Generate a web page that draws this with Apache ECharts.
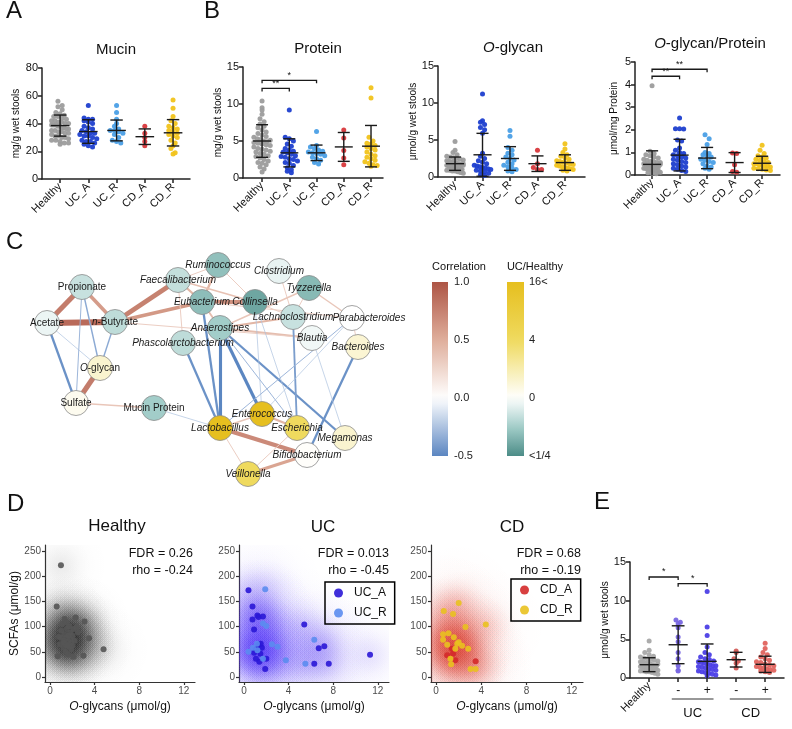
<!DOCTYPE html>
<html><head><meta charset="utf-8">
<script src="https://cdn.jsdelivr.net/npm/echarts@6/dist/echarts.min.js"></script>
<style>html,body{margin:0;padding:0;background:#fff}#c{width:792px;height:729px}</style>
</head><body><div id="c"></div>
<script>
const FONT = 'Liberation Sans, Arial, Helvetica, sans-serif';

// ---------------- Panels A / B : dot plots ----------------
const groupNames = ['Healthy', 'UC_A', 'UC_R', 'CD_A', 'CD_R'];
const groupColors = ['#9c9c9c', '#1d3fcf', '#4a9fe6', '#d8383c', '#f1c31b'];

const mucinHealthy = [56, 53, 52, 50, 48, 47, 46, 45, 45, 44, 43, 42, 42, 41, 41, 40, 40, 39, 39, 39, 38, 38, 37, 37, 36, 36, 35, 35, 34, 34, 33, 33, 32, 31, 31, 30, 30, 29, 28, 28, 27, 26, 26, 25];
const mucinUCA = [53, 44, 43, 43, 42, 41, 40, 38, 37, 36, 35, 34, 33, 33, 32, 31, 31, 30, 29, 28, 27, 27, 26, 25, 24, 23];
const mucinUCR = [53, 48, 43, 40, 38, 36, 35, 35, 34, 33, 32, 30, 28, 27, 26];
const mucinCDA = [38, 33, 30, 27, 24];
const mucinCDR = [57, 51, 45, 42, 40, 38, 37, 36, 35, 34, 33, 32, 31, 30, 28, 26, 24, 22, 19, 18];
const mucinMean = [38.5, 34.2, 35.0, 30.5, 33.3];
const mucinSD = [7.6, 8.5, 7.5, 5.6, 9.5];

const proteinHealthy = [10.4, 9.5, 9.2, 8.6, 8.0, 7.6, 7.3, 7.0, 6.8, 6.5, 6.2, 6.0, 5.8, 5.6, 5.5, 5.3, 5.2, 5.0, 4.9, 4.8, 4.7, 4.6, 4.5, 4.4, 4.2, 4.0, 3.9, 3.8, 3.6, 3.5, 3.3, 3.2, 3.0, 2.9, 2.7, 2.5, 2.3, 2.1, 2.0, 1.8, 1.5, 1.2, 0.8, 5.1];
const proteinUCA = [9.2, 5.5, 5.3, 5.0, 4.6, 4.3, 4.0, 3.8, 3.6, 3.5, 3.4, 3.2, 3.0, 2.9, 2.8, 2.6, 2.5, 2.3, 2.1, 2.0, 1.7, 1.4, 1.1, 0.9, 0.7];
const proteinUCR = [6.3, 4.4, 4.2, 4.0, 3.8, 3.6, 3.5, 3.4, 3.3, 3.2, 3.0, 2.8, 2.6, 2.4, 2.1, 1.9];
const proteinCDA = [6.5, 5.4, 3.7, 2.7, 1.8];
const proteinCDR = [12.2, 10.8, 5.5, 5.0, 4.7, 4.6, 4.4, 4.2, 4.0, 3.8, 3.5, 3.2, 3.0, 2.8, 2.6, 2.4, 2.2, 2.0, 1.8, 1.7, 1.6];
const proteinMean = [5.0, 3.4, 3.4, 4.2, 4.3];
const proteinSD = [2.2, 1.9, 1.05, 1.95, 2.8];
const proteinBrackets = [[0, 1, 12.1], [0, 2, 13.2]];
const proteinBracketLabels = ['**', '*'];

const oglyHealthy = [4.8, 3.6, 3.3, 3.0, 2.8, 2.7, 2.6, 2.5, 2.4, 2.3, 2.2, 2.1, 2.1, 2.0, 2.0, 1.9, 1.9, 1.8, 1.8, 1.7, 1.7, 1.6, 1.6, 1.5, 1.5, 1.4, 1.4, 1.3, 1.3, 1.2, 1.2, 1.1, 1.1, 1.0, 1.0, 0.9, 0.9, 0.8, 0.8, 0.7, 0.6, 0.5, 1.6, 1.8];
const oglyUCA = [11.2, 7.6, 7.4, 7.1, 6.7, 6.4, 5.9, 3.2, 2.8, 2.5, 2.2, 2.0, 1.8, 1.6, 1.5, 1.4, 1.3, 1.2, 1.1, 1.0, 0.9, 0.8, 0.7, 0.5, 0.3, 0.2];
const oglyUCR = [6.3, 5.5, 4.0, 3.6, 3.2, 3.0, 2.7, 2.5, 2.3, 2.0, 1.8, 1.6, 1.4, 1.2, 1.0, 0.8, 0.7];
const oglyCDA = [3.6, 1.8, 1.3, 1.0, 1.0];
const oglyCDR = [4.5, 3.8, 3.3, 3.0, 2.8, 2.6, 2.4, 2.2, 2.1, 2.0, 1.9, 1.8, 1.7, 1.6, 1.5, 1.4, 1.3, 1.2, 1.1, 1.0, 0.9, 0.8];
const oglyMean = [1.8, 3.0, 2.5, 1.8, 1.95];
const oglySD = [0.9, 2.9, 1.6, 1.05, 1.05];

const ratioHealthy = [3.95, 1.05, 0.95, 0.9, 0.85, 0.8, 0.75, 0.7, 0.65, 0.6, 0.6, 0.55, 0.55, 0.5, 0.5, 0.5, 0.45, 0.45, 0.45, 0.4, 0.4, 0.4, 0.38, 0.36, 0.35, 0.34, 0.32, 0.3, 0.3, 0.28, 0.26, 0.25, 0.22, 0.2, 0.2, 0.18, 0.16, 0.15, 0.12, 0.1, 0.08, 0.06, 0.42, 0.48];
const ratioUCA = [2.52, 2.05, 2.05, 2.03, 1.55, 1.5, 1.2, 1.1, 1.0, 0.95, 0.9, 0.85, 0.8, 0.75, 0.7, 0.65, 0.6, 0.55, 0.5, 0.45, 0.4, 0.35, 0.3, 0.25, 0.2, 0.15];
const ratioUCR = [1.78, 1.6, 1.35, 1.0, 0.95, 0.9, 0.85, 0.8, 0.7, 0.65, 0.6, 0.55, 0.5, 0.4, 0.35, 0.3, 0.25];
const ratioCDA = [0.97, 0.95, 0.45, 0.15, 0.12];
const ratioCDR = [1.32, 1.1, 0.95, 0.85, 0.8, 0.75, 0.7, 0.65, 0.6, 0.55, 0.5, 0.5, 0.45, 0.45, 0.4, 0.4, 0.35, 0.3, 0.28, 0.25, 0.22, 0.2];
const ratioMean = [0.47, 0.88, 0.75, 0.55, 0.52];
const ratioSD = [0.6, 0.7, 0.47, 0.44, 0.31];
const ratioBrackets = [[0, 1, 4.37], [0, 2, 4.68]];
const ratioBracketLabels = ['**', '**'];

// ---------------- Panel E ----------------
const eNames = ['Healthy', '-', '+', '-', '+'];
const eColors = ['#a8a8a8', '#7866e2', '#4c3fe6', '#d35d58', '#e0645e'];
const eHealthy = [4.8, 3.6, 3.3, 3.0, 2.8, 2.7, 2.6, 2.5, 2.4, 2.3, 2.2, 2.1, 2.1, 2.0, 2.0, 1.9, 1.9, 1.8, 1.8, 1.7, 1.7, 1.6, 1.6, 1.5, 1.5, 1.4, 1.4, 1.3, 1.3, 1.2, 1.2, 1.1, 1.1, 1.0, 1.0, 0.9, 0.9, 0.8, 0.8, 0.7, 0.6, 0.5, 1.6, 1.8];
const eUCminus = [7.5, 7.2, 7.0, 6.5, 5.3, 4.7, 3.3, 2.5, 1.6, 1.0, 0.9];
const eUCplus = [11.2, 6.6, 5.5, 4.0, 3.3, 3.0, 2.7, 2.5, 2.4, 2.2, 2.1, 2.0, 1.9, 1.8, 1.7, 1.6, 1.6, 1.5, 1.4, 1.3, 1.2, 1.1, 1.0, 0.9, 0.8, 0.7, 0.6, 0.5, 0.4, 0.3];
const eCDminus = [3.5, 3.3, 2.5, 2.2, 1.9, 1.3];
const eCDplus = [4.5, 3.8, 3.3, 3.0, 2.7, 2.5, 2.3, 2.1, 2.0, 1.8, 1.7, 1.6, 1.5, 1.4, 1.3, 1.2, 1.1, 1.0, 0.9, 0.8, 0.7];
const eMean = [1.72, 4.3, 2.15, 2.37, 1.77];
const eSD = [0.9, 2.45, 2.25, 0.95, 1.05];
const eBrackets = [[0, 1, 13.06], [1, 2, 12.2]];
const eBracketLabels = ['*', '*'];
const eGroups = [[1, 2], [3, 4]];
const eGroupLabels = ['UC', 'CD'];

// ---------------- Panel C : network ----------------
const netNodes = ['Propionate', 'Acetate', 'n-Butyrate', 'O-glycan', 'Sulfate', 'Mucin Protein', 'Faecalibacterium', 'Ruminococcus', 'Clostridium', 'Tyzzerella', 'Eubacterium', 'Collinsella', 'Lachnoclostridium', 'Parabacteroides', 'Anaerostipes', 'Blautia', 'Phascolarctobacterium', 'Bacteroides', 'Lactobacillus', 'Enterococcus', 'Escherichia', 'Megamonas', 'Bifidobacterium', 'Veillonella'];
const netX = [52, 17, 85, 70, 46, 124, 148, 188, 249, 279, 172, 225, 263, 322, 190, 282, 153, 328, 190, 232, 267, 315, 277, 218];
const netY = [32, 68, 67, 113, 148, 153, 25, 10, 16, 33, 47, 47, 62, 63, 73, 83, 88, 92, 173, 159, 173, 183, 200, 219];
const netFold = [-0.6, -0.2, -0.7, 0.6, 0.2, -1.0, -0.65, -1.2, -0.25, -1.3, -1.25, -1.6, -0.6, 0, -1.0, -0.15, -0.7, 0.55, 4, 4, 2, 0.6, 0.05, 2];
const netEdges = [
  ['Acetate', 'Propionate', 0.78], ['Acetate', 'n-Butyrate', 0.88], ['Propionate', 'n-Butyrate', 0.6],
  ['n-Butyrate', 'Faecalibacterium', 0.75], ['n-Butyrate', 'Eubacterium', 0.62], ['O-glycan', 'Sulfate', 0.78],
  ['Faecalibacterium', 'Eubacterium', 0.45], ['Eubacterium', 'Collinsella', 0.65], ['Ruminococcus', 'Eubacterium', 0.45],
  ['Faecalibacterium', 'Collinsella', 0.38], ['Ruminococcus', 'Collinsella', 0.3], ['Faecalibacterium', 'Ruminococcus', 0.3],
  ['Eubacterium', 'Anaerostipes', 0.4], ['Anaerostipes', 'Lachnoclostridium', 0.45], ['Anaerostipes', 'Blautia', 0.4],
  ['n-Butyrate', 'Blautia', 0.3], ['Lactobacillus', 'Bifidobacterium', 0.7], ['Veillonella', 'Bifidobacterium', 0.55],
  ['Lactobacillus', 'Veillonella', 0.3], ['Lactobacillus', 'Enterococcus', 0.35], ['Enterococcus', 'Escherichia', 0.45],
  ['Escherichia', 'Veillonella', 0.3], ['Sulfate', 'Mucin Protein', 0.35], ['Tyzzerella', 'Parabacteroides', 0.35],
  ['Clostridium', 'Lachnoclostridium', 0.3], ['Tyzzerella', 'Lachnoclostridium', 0.3], ['Parabacteroides', 'Bacteroides', 0.3],
  ['Eubacterium', 'Parabacteroides', 0.3], ['Faecalibacterium', 'Phascolarctobacterium', 0.3], ['Anaerostipes', 'Tyzzerella', 0.35],
  ['Collinsella', 'Lachnoclostridium', 0.3],
  ['Acetate', 'Sulfate', -0.45], ['Acetate', 'O-glycan', -0.25], ['Propionate', 'Sulfate', -0.3],
  ['Propionate', 'O-glycan', -0.35], ['n-Butyrate', 'O-glycan', -0.35], ['Phascolarctobacterium', 'Lactobacillus', -0.45],
  ['Eubacterium', 'Lactobacillus', -0.45], ['Anaerostipes', 'Lactobacillus', -0.55], ['Anaerostipes', 'Enterococcus', -0.55],
  ['Anaerostipes', 'Escherichia', -0.3], ['Anaerostipes', 'Megamonas', -0.45], ['Collinsella', 'Enterococcus', -0.25],
  ['Lachnoclostridium', 'Escherichia', -0.4], ['Collinsella', 'Escherichia', -0.25], ['Parabacteroides', 'Lactobacillus', -0.3],
  ['Parabacteroides', 'Enterococcus', -0.25], ['Bacteroides', 'Bifidobacterium', -0.45], ['Blautia', 'Megamonas', -0.25],
  ['Mucin Protein', 'Lactobacillus', -0.25]
];
const corrTicks = ['-0.5', '0.0', '0.5', '1.0'];
const foldTicks = ['<1/4', '0', '4', '16<'];

// ---------------- Panel D : scatter ----------------
const scatterHealthy = [[0.98, 222], [0.6, 140], [0.68, 41], [2.3, 118], [3.1, 110], [3.5, 77], [4.8, 55], [3.0, 42], [2.1, 40], [2.5, 89], [2.4, 99], [1.0, 78], [1.2, 72], [1.3, 85], [1.4, 65], [1.5, 95], [1.6, 70], [1.7, 60], [1.8, 75], [1.9, 68], [2.0, 82], [1.1, 105], [1.3, 115], [1.5, 108], [1.2, 58], [1.4, 50], [1.6, 45], [1.8, 88], [2.0, 62], [2.2, 72], [1.0, 92], [0.9, 65], [1.7, 100], [1.9, 55], [1.45, 78], [1.25, 68], [1.65, 82], [2.1, 95], [0.8, 80], [1.55, 62]];
const scatterUCA = [[0.4, 172], [0.76, 140], [0.76, 114], [0.9, 94], [1.2, 122], [1.3, 119], [1.7, 120], [1.28, 64], [1.47, 46], [1.07, 36], [1.37, 30], [2.0, 36], [1.9, 16], [5.4, 104], [6.7, 57], [7.2, 61], [6.3, 26], [7.6, 26], [11.3, 44], [1.1, 55], [1.6, 58], [0.9, 48], [1.5, 66]];
const scatterUCR = [[1.9, 174], [1.7, 106], [2.0, 101], [1.16, 66], [0.4, 50], [1.2, 53], [2.5, 65], [3.0, 60], [3.75, 33], [6.3, 74], [5.5, 26], [1.7, 36], [0.8, 58]];
const scatterCDA = [[0.98, 43], [1.4, 56], [1.7, 33], [3.5, 31], [1.5, 46]];
const scatterCDR = [[0.68, 131], [2.0, 147], [1.5, 125], [0.62, 85], [1.1, 87], [0.62, 74], [0.98, 64], [1.57, 79], [1.87, 66], [2.0, 69], [2.3, 62], [2.84, 56], [2.6, 99], [4.4, 104], [3.05, 16], [3.5, 16], [1.27, 36], [1.33, 25], [1.7, 56]];
const fdrLabels = [['FDR = 0.26', 'rho = -0.24'], ['FDR = 0.013', 'rho = -0.45'], ['FDR = 0.68', 'rho = -0.19']];

// ---------------- helpers ----------------
function hexRgb(h) { return [parseInt(h.slice(1, 3), 16), parseInt(h.slice(3, 5), 16), parseInt(h.slice(5, 7), 16)]; }
function interp(stops, v) {
  if (v <= stops[0][0]) return stops[0][1];
  if (v >= stops[stops.length - 1][0]) return stops[stops.length - 1][1];
  for (let i = 0; i < stops.length - 1; i++) {
    const [a, ca] = stops[i], [b, cb] = stops[i + 1];
    if (v >= a && v <= b) {
      const t = (v - a) / (b - a), A = hexRgb(ca), B = hexRgb(cb);
      return 'rgb(' + A.map((x, k) => Math.round(x + (B[k] - x) * t)).join(',') + ')';
    }
  }
}
const corrStops = [[-0.5, '#5b86c1'], [0, '#ffffff'], [0.5, '#dfae9b'], [1.0, '#ad5545']];
const foldStops = [[-2, '#4c8c87'], [-1, '#a2cdc9'], [0, '#ffffff'], [2, '#efda5e'], [4, '#e6bf1f']];

function swarm(groups, binSize) {
  const pts = [];
  groups.forEach((vals, gi) => {
    const bins = new Map();
    vals.forEach(v => { const b = Math.round(v / binSize); if (!bins.has(b)) bins.set(b, []); bins.get(b).push(v); });
    bins.forEach(arr => {
      const n = arr.length, d = n > 1 ? Math.min(0.15, 0.6 / (n - 1)) : 0;
      arr.forEach((v, k) => pts.push([gi + (k - (n - 1) / 2) * d, v, gi]));
    });
  });
  return pts;
}
function seg(p, q, w) { return { type: 'line', shape: { x1: p[0], y1: p[1], x2: q[0], y2: q[1] }, style: { stroke: '#1a1a1a', lineWidth: w || 1.4 } }; }
function errBar(params, api) {
  const i = api.value(0), m = api.value(1), s = api.value(2);
  const lo = Math.max(0, m - s), hi = m + s;
  const ch = [
    seg(api.coord([i - 0.33, m]), api.coord([i + 0.33, m])),
    seg(api.coord([i, hi]), api.coord([i, lo])),
    seg(api.coord([i - 0.22, hi]), api.coord([i + 0.22, hi]))
  ];
  if (m - s > 0) ch.push(seg(api.coord([i - 0.22, lo]), api.coord([i + 0.22, lo])));
  return { type: 'group', children: ch };
}
function bracketRender(labels) {
  return function (params, api) {
    const p1 = api.coord([api.value(0), api.value(2)]), p2 = api.coord([api.value(1), api.value(2)]);
    return { type: 'group', children: [
      { type: 'polyline', shape: { points: [[p1[0], p1[1] + 3], p1, p2, [p2[0], p2[1] + 3]] }, style: { stroke: '#1a1a1a', lineWidth: 1.3, fill: null } },
      { type: 'text', x: (p1[0] + p2[0]) / 2, y: p1[1] - 0.5, style: { text: labels[params.dataIndex], align: 'center', verticalAlign: 'bottom', fontSize: 9, fill: '#111', fontFamily: FONT } }
    ] };
  };
}
function densityRender(rgb, a0, R) {
  const fall = [[0, 1], [0.2, 0.85], [0.4, 0.55], [0.6, 0.27], [0.8, 0.08], [1, 0]];
  return function (params, api) {
    const p = api.coord([api.value(0), api.value(1)]);
    return { type: 'circle', shape: { cx: p[0], cy: p[1], r: R },
      style: { fill: new echarts.graphic.RadialGradient(0.5, 0.5, 0.5, fall.map(f => ({ offset: f[0], color: 'rgba(' + rgb + ',' + (a0 * f[1]).toFixed(4) + ')' }))) } };
  };
}

// ---------------- layout ----------------
const grids = [
  { left: 42, top: 68, width: 148, height: 111 },   // 0 mucin
  { left: 243, top: 67, width: 140, height: 111 },  // 1 protein
  { left: 438, top: 66, width: 147, height: 111 },  // 2 O-glycan
  { left: 635, top: 62, width: 145, height: 113 },  // 3 ratio
  { left: 30, top: 255, width: 380, height: 235 },  // 4 network
  { left: 432, top: 282, width: 16, height: 174 },  // 5 corr bar
  { left: 507, top: 282, width: 17, height: 174 },  // 6 fold bar
  { left: 45, top: 545, width: 150, height: 137 },  // 7 D healthy
  { left: 239, top: 545, width: 150, height: 137 }, // 8 D UC
  { left: 431, top: 545, width: 152, height: 137 }, // 9 D CD
  { left: 630, top: 562, width: 154, height: 116 }  // 10 E
];

const axisLineStyle = { color: '#222', width: 1.5 };
function dotX(gi, min, max, names) {
  return { type: 'value', gridIndex: gi, position: 'bottom', min, max, splitLine: { show: false },
    axisLine: { show: true, onZero: false, lineStyle: axisLineStyle },
    axisTick: { show: true, length: 4, customValues: [0, 1, 2, 3, 4], lineStyle: axisLineStyle },
    axisLabel: { customValues: [0, 1, 2, 3, 4], formatter: v => names[Math.round(v)], rotate: 45, fontSize: 11, color: '#111', margin: 6 } };
}
function dotY(gi, max, interval, name, gap) {
  return { type: 'value', gridIndex: gi, min: 0, max, interval, splitLine: { show: false },
    axisLine: { show: true, onZero: false, lineStyle: axisLineStyle },
    axisTick: { show: true, length: 4, lineStyle: axisLineStyle },
    axisLabel: { fontSize: 11, color: '#111', margin: 4 },
    name, nameLocation: 'middle', nameGap: gap, nameTextStyle: { fontSize: 10, color: '#111' } };
}
const dLine = { color: '#333', width: 1.2 };
function dX(gi) {
  return { type: 'value', gridIndex: gi, min: -0.45, max: 13, splitLine: { show: false },
    axisLine: { show: true, onZero: false, lineStyle: dLine },
    axisTick: { show: true, length: 3, customValues: [0, 4, 8, 12], lineStyle: dLine },
    axisLabel: { customValues: [0, 4, 8, 12], fontSize: 10, color: '#4d4d4d', margin: 4 },
    name: '{i|O}-glycans (μmol/g)', nameLocation: 'middle', nameGap: 19,
    nameTextStyle: { fontSize: 12, color: '#111', rich: { i: { fontStyle: 'italic', fontSize: 12, color: '#111' } } } };
}
function dY(gi, name) {
  return { type: 'value', gridIndex: gi, min: -10, max: 262, splitLine: { show: false },
    axisLine: { show: true, onZero: false, lineStyle: dLine },
    axisTick: { show: true, length: 3, customValues: [0, 50, 100, 150, 200, 250], lineStyle: dLine },
    axisLabel: { customValues: [0, 50, 100, 150, 200, 250], fontSize: 10, color: '#4d4d4d', margin: 4 },
    name: name || '', nameLocation: 'middle', nameGap: 24, nameTextStyle: { fontSize: 12, color: '#111' } };
}
const hidden = { show: false };

const xAxes = [
  dotX(0, -0.64, 4.6, groupNames),
  dotX(1, -0.7, 4.44, groupNames),
  dotX(2, -0.62, 4.73, groupNames),
  dotX(3, -0.62, 4.65, groupNames),
  { type: 'value', gridIndex: 4, min: 0, max: 380, show: false },
  { type: 'category', gridIndex: 5, data: ['c'], show: false },
  { type: 'category', gridIndex: 6, data: ['f'], show: false },
  dX(7), dX(8), dX(9),
  (function () { const a = dotX(10, -0.66, 4.65, eNames); a.axisLabel.customValues = [0]; a.axisLabel.formatter = () => eNames[0]; return a; })(),
  { type: 'value', gridIndex: 10, position: 'bottom', offset: 0, min: -0.66, max: 4.65, splitLine: hidden, axisLine: { show: false, onZero: false }, axisTick: hidden,
    axisLabel: { customValues: [1, 2, 3, 4], formatter: v => eNames[Math.round(v)], fontSize: 12, color: '#111', margin: 7 } }
];
const yAxes = [
  dotY(0, 80, 20, 'mg/g wet stools', 21),
  dotY(1, 15, 5, 'mg/g wet stools', 17),
  dotY(2, 15, 5, 'μmol/g wet stools', 19),
  dotY(3, 5, 1, 'μmol/mg Protein', 16),
  { type: 'value', gridIndex: 4, min: 0, max: 235, inverse: true, show: false },
  { type: 'value', gridIndex: 5, min: 0, max: 1.5, interval: 0.5, position: 'right', splitLine: hidden, axisLine: hidden, axisTick: hidden,
    axisLabel: { formatter: v => corrTicks[Math.round(v / 0.5)], fontSize: 11, color: '#222', margin: 6 } },
  { type: 'value', gridIndex: 6, min: 0, max: 6, interval: 2, position: 'right', splitLine: hidden, axisLine: hidden, axisTick: hidden,
    axisLabel: { formatter: v => foldTicks[Math.round(v / 2)], fontSize: 11, color: '#222', margin: 5 } },
  dY(7, 'SCFAs (μmol/g)'), dY(8), dY(9),
  dotY(10, 15, 5, 'μmol/g wet stools', 19)
];

// ---------------- series ----------------
const series = [];
const dotPanels = [
  { g: 0, vals: [mucinHealthy, mucinUCA, mucinUCR, mucinCDA, mucinCDR], mean: mucinMean, sd: mucinSD, bin: 3.4, colors: groupColors },
  { g: 1, vals: [proteinHealthy, proteinUCA, proteinUCR, proteinCDA, proteinCDR], mean: proteinMean, sd: proteinSD, bin: 0.65, colors: groupColors, br: proteinBrackets, brl: proteinBracketLabels },
  { g: 2, vals: [oglyHealthy, oglyUCA, oglyUCR, oglyCDA, oglyCDR], mean: oglyMean, sd: oglySD, bin: 0.65, colors: groupColors },
  { g: 3, vals: [ratioHealthy, ratioUCA, ratioUCR, ratioCDA, ratioCDR], mean: ratioMean, sd: ratioSD, bin: 0.21, colors: groupColors, br: ratioBrackets, brl: ratioBracketLabels },
  { g: 10, vals: [eHealthy, eUCminus, eUCplus, eCDminus, eCDplus], mean: eMean, sd: eSD, bin: 0.62, colors: eColors, br: eBrackets, brl: eBracketLabels }
];
dotPanels.forEach(p => {
  const cols = p.colors;
  series.push({ type: 'scatter', xAxisIndex: p.g, yAxisIndex: p.g, data: swarm(p.vals, p.bin), symbolSize: 5, silent: true, z: 3,
    itemStyle: { color: prm => cols[prm.value[2]], opacity: 0.95 } });
  series.push({ type: 'custom', xAxisIndex: p.g, yAxisIndex: p.g, data: p.mean.map((m, i) => [i, m, p.sd[i]]), renderItem: errBar, silent: true, z: 4 });
  if (p.br) series.push({ type: 'custom', xAxisIndex: p.g, yAxisIndex: p.g, data: p.br, renderItem: bracketRender(p.brl), silent: true, z: 4 });
});
series.push({ type: 'custom', xAxisIndex: 10, yAxisIndex: 10, data: eGroups, silent: true, clip: false,
  renderItem: (params, api) => {
    const p1 = api.coord([api.value(0) - 0.22, 0]), p2 = api.coord([api.value(1) + 0.22, 0]);
    return { type: 'group', children: [
      { type: 'line', shape: { x1: p1[0], y1: p1[1] + 21, x2: p2[0], y2: p2[1] + 21 }, style: { stroke: '#333', lineWidth: 1.2 } },
      { type: 'text', x: (p1[0] + p2[0]) / 2, y: p1[1] + 35, style: { text: eGroupLabels[params.dataIndex], align: 'center', verticalAlign: 'middle', fontSize: 13, fill: '#111', fontFamily: FONT } }
    ] };
  } });

// network
const nodeData = netNodes.map((n, i) => {
  const it = { name: n, value: [netX[i], netY[i]], itemStyle: { color: interp(foldStops, netFold[i]), borderColor: '#8c8c8c', borderWidth: 0.8 },
    label: { fontStyle: i >= 6 ? 'italic' : 'normal' } };
  if (n === 'n-Butyrate') { it.label.formatter = '{i|n}-Butyrate'; }
  if (n === 'O-glycan') { it.label.formatter = '{i|O}-glycan'; }
  if (n === 'Parabacteroides') { it.label.offset = [17, 0]; }
  return it;
});
const linkData = netEdges.map(e => ({ source: e[0], target: e[1],
  lineStyle: { color: interp(corrStops, e[2]), width: Math.max(0.7, 1 + (Math.abs(e[2]) - 0.3) * 8.5), opacity: 1, curveness: 0 } }));
series.push({ type: 'graph', layout: 'none', coordinateSystem: 'cartesian2d', xAxisIndex: 4, yAxisIndex: 4, symbolSize: 25, silent: true,
  data: nodeData, links: linkData, z: 5,
  label: { show: true, position: 'inside', fontSize: 10, color: '#1a1a1a', fontFamily: FONT,
    rich: { i: { fontStyle: 'italic', fontSize: 10, color: '#1a1a1a', fontFamily: FONT } } },
  lineStyle: { opacity: 1 } });

// colour bars
const corrGrad = [], foldGrad = [];
for (let k = 0; k <= 20; k++) {
  corrGrad.push({ offset: k / 20, color: interp(corrStops, 1 - 1.5 * k / 20) });
  foldGrad.push({ offset: k / 20, color: interp(foldStops, 4 - 6 * k / 20) });
}
series.push({ type: 'bar', xAxisIndex: 5, yAxisIndex: 5, data: [1.5], barWidth: '100%', silent: true,
  itemStyle: { color: new echarts.graphic.LinearGradient(0, 0, 0, 1, corrGrad) } });
series.push({ type: 'bar', xAxisIndex: 6, yAxisIndex: 6, data: [6], barWidth: '100%', silent: true,
  itemStyle: { color: new echarts.graphic.LinearGradient(0, 0, 0, 1, foldGrad) } });

// scatter panels D
const dPanels = [
  { g: 7, rgb: '25,25,25', a0: 0.065, a1: 0.02, sets: [['Healthy pts', scatterHealthy, '#555555']] },
  { g: 8, rgb: '80,50,242', a0: 0.09, a1: 0.04, sets: [['UC_A', scatterUCA, '#2a17d6'], ['UC_R', scatterUCR, '#5b8cf0']] },
  { g: 9, rgb: '215,45,30', a0: 0.1, a1: 0.035, sets: [['CD_A', scatterCDA, '#d42a2a'], ['CD_R', scatterCDR, '#e9c11f']] }
];
dPanels.forEach(p => {
  const all = [].concat(...p.sets.map(s => s[1]));
  series.push({ type: 'custom', xAxisIndex: p.g, yAxisIndex: p.g, data: all, renderItem: densityRender(p.rgb, p.a1, 62), clip: true, silent: true, z: 1 });
  series.push({ type: 'custom', xAxisIndex: p.g, yAxisIndex: p.g, data: all, renderItem: densityRender(p.rgb, p.a0, 32), clip: true, silent: true, z: 1 });
  p.sets.forEach(s => series.push({ type: 'scatter', name: s[0], xAxisIndex: p.g, yAxisIndex: p.g, data: s[1], symbolSize: 6, silent: true, z: 3,
    itemStyle: { color: s[2], opacity: 0.9 } }));
});

// ---------------- texts ----------------
function txt(text, x, y, size, align, extra) {
  return Object.assign({ type: 'text', x, y, silent: true, style: Object.assign({ text, fontSize: size, fontFamily: FONT, fill: '#111', align: align || 'center', verticalAlign: 'middle',
    rich: { i: { fontStyle: 'italic', fontSize: size, fontFamily: FONT, fill: '#111' } } }, extra || {}) });
}
const graphics = [
  txt('A', 6, 11, 24, 'left'), txt('B', 204, 11, 24, 'left'), txt('C', 6, 242, 24, 'left'), txt('D', 7, 504, 24, 'left'), txt('E', 594, 502, 24, 'left'),
  txt('Mucin', 116, 50, 15), txt('Protein', 318, 49, 15), txt('{i|O}-glycan', 513, 48, 15), txt('{i|O}-glycan/Protein', 710, 44, 15),
  txt('Healthy', 117, 526, 17), txt('UC', 323, 527, 17), txt('CD', 512, 527, 17),
  txt('Correlation', 459, 267, 11), txt('UC/Healthy', 535, 267, 11)
];
[193, 389, 581].forEach((x, i) => { graphics.push(txt(fdrLabels[i][0], x, 554, 12.5, 'right')); graphics.push(txt(fdrLabels[i][1], x, 571, 12.5, 'right')); });

const legendBase = { orient: 'vertical', itemWidth: 9, itemHeight: 9, itemGap: 8, padding: [5, 8, 5, 9], borderColor: '#000', borderWidth: 1.5,
  selectedMode: false, icon: 'circle', textStyle: { fontSize: 12, color: '#111', fontFamily: FONT, padding: [0, 0, 0, 6] } };

const chart = echarts.init(document.getElementById('c'), null, { renderer: 'canvas' });
chart.setOption({
  backgroundColor: '#ffffff',
  animation: false,
  textStyle: { fontFamily: FONT },
  grid: grids,
  xAxis: xAxes,
  yAxis: yAxes,
  legend: [Object.assign({ data: ['UC_A', 'UC_R'], left: 325, top: 582 }, legendBase), Object.assign({ data: ['CD_A', 'CD_R'], left: 511, top: 579 }, legendBase)],
  graphic: { elements: graphics },
  series
});
</script></body></html>
